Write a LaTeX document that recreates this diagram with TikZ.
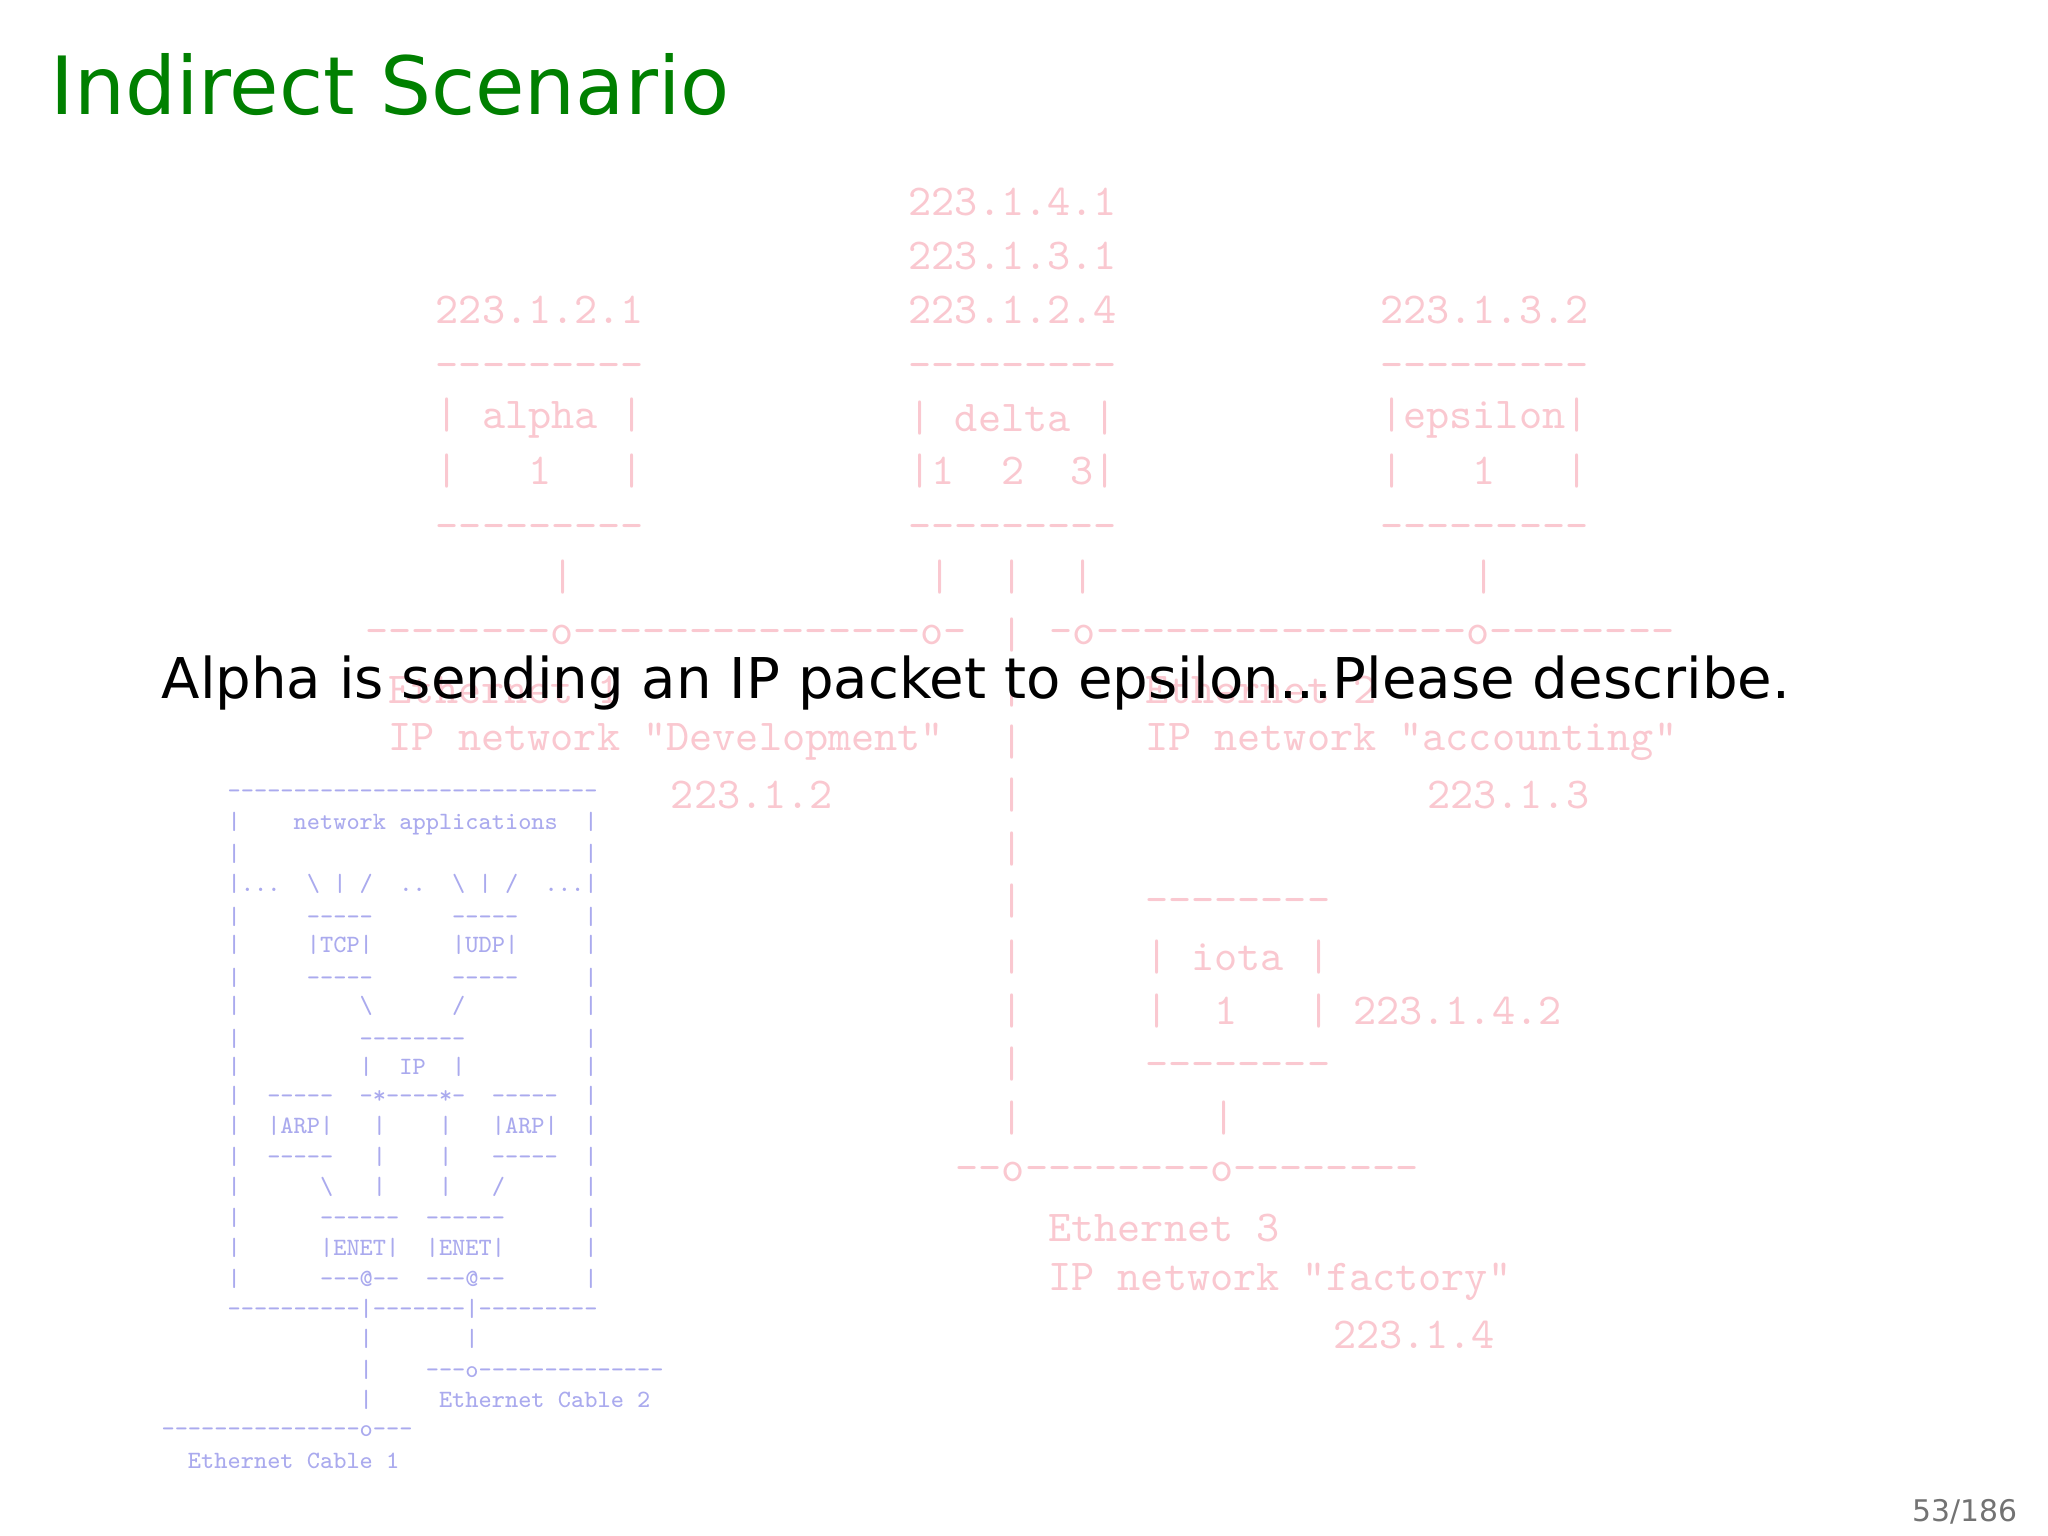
\documentclass[tikz,border=0pt]{standalone}
\usepackage{fontspec}
\setmainfont{DejaVu Sans}
\setmonofont{Latin Modern Mono}
\definecolor{titlegreen}{RGB}{0,128,0}
\definecolor{pinkc}{RGB}{250,200,208}
\definecolor{bluec}{RGB}{170,170,238}
\newcommand\bsp[1]{\kern#1\fontdimen2\font}
\newcommand\bsl{\textbackslash}
\begin{document}
\begin{tikzpicture}[x=0.1mm,y=-0.1mm,
  pk/.style={font=\fontsize{9.6}{11.67}\selectfont\ttfamily, text=pinkc, anchor=west, inner sep=0pt},
  pkc/.style={pk, anchor=center},
  bl/.style={font=\fontsize{5.42}{6.34}\selectfont\ttfamily, text=bluec, anchor=west, inner sep=0pt}]
\useasboundingbox[fill=white] (0,0) rectangle (1568,1176);
\node[anchor=base west, text=titlegreen, font=\fontsize{17.5}{20}\selectfont, inner sep=0pt] (title) at (38,88) {Indirect Scenario};
% pink network
\node[pk] (a1) at (695,155) {223.1.4.1};
\node[pk] (a2) at (695,196) {223.1.3.1};
\node[pk] (a3) at (333,237) {223.1.2.1};
\node[pk] (a4) at (695,237) {223.1.2.4};
\node[pk] (a5) at (1056,237) {223.1.3.2};
\node[pk] (b1) at (333,284) {---------};
\node[pk] (b2) at (695,284) {---------};
\node[pk] (b3) at (1056,284) {---------};
\node[pk] (c1) at (333,320) {|\bsp{1}alpha\bsp{1}|};
\node[pk] (c2) at (695,320) {|\bsp{1}delta\bsp{1}|};
\node[pk] (c3) at (1056,320) {|epsilon|};
\node[pk] (d1) at (333,361) {|\bsp{3}1\bsp{3}|};
\node[pk] (d2) at (695,361) {|1\bsp{2}2\bsp{2}3|};
\node[pk] (d3) at (1056,361) {|\bsp{3}1\bsp{3}|};
\node[pk] (e1) at (333,407) {---------};
\node[pk] (e2) at (695,407) {---------};
\node[pk] (e3) at (1056,407) {---------};
\node[pkc] (f1) at (431,442) {|};
\node[pkc] (f2) at (720,442) {|};
\node[pkc] (f3) at (775,442) {|};
\node[pkc] (f4) at (829,442) {|};
\node[pkc] (f5) at (1136,442) {|};
\node[pk] (netA) at (279,486) {--------o---------------o-};
\node[pkc] (netB) at (775,486) {|};
\node[pk] (netC) at (803,486) {-o----------------o--------};
\node[pk] (g1) at (297,528) {Ethernet 1};
\node[pkc] (g2) at (775,528) {|};
\node[pk] (g3) at (876,528) {Ethernet 2};
\node[pk] (h1) at (297,568) {IP network "Development"};
\node[pkc] (h2) at (775,568) {|};
\node[pk] (h3) at (876,568) {IP network "accounting"};
\node[pk] (i1) at (513,609) {223.1.2};
\node[pkc] (i2) at (775,609) {|};
\node[pk] (i3) at (1092,609) {223.1.3};
\node[pkc] (j2) at (775,650) {|};
\node[pkc] (k2) at (775,690) {|};
\node[pk] (k3) at (876,694) {--------};
\node[pkc] (l2) at (775,733) {|};
\node[pk] (l3) at (876,733) {|\bsp{1}iota\bsp{1}|};
\node[pkc] (m2) at (775,774) {|};
\node[pk] (m3) at (876,774) {|\bsp{2}1\bsp{3}|\bsp{1}223.1.4.2};
\node[pkc] (n2) at (775,815) {|};
\node[pk] (n3) at (876,819) {--------};
\node[pkc] (o2) at (775,856) {|};
\node[pkc] (o3) at (937,856) {|};
\node[pk] (p1) at (731,897) {--o--------o--------};
\node[pk] (q1) at (802,940) {Ethernet 3};
\node[pk] (r1) at (802,981) {IP network "factory"};
\node[pk] (s1) at (1020,1022) {223.1.4};
% blue protocol stack
\node[bl] (L1) at (123,608.0) {\bsp{5}----------------------------};
\node[bl] (L2) at (123,630.3) {\bsp{5}|\bsp{4}network applications\bsp{2}|};
\node[bl] (L3) at (123,653.6) {\bsp{5}|\bsp{26}|};
\node[bl] (L4) at (123,676.9) {\bsp{5}|...\bsp{2}\bsl\bsp{1}|\bsp{1}/\bsp{2}..\bsp{2}\bsl\bsp{1}|\bsp{1}/\bsp{2}...|};
\node[bl] (L5) at (123,702.2) {\bsp{5}|\bsp{5}-----\bsp{6}-----\bsp{5}|};
\node[bl] (L6) at (123,723.5) {\bsp{5}|\bsp{5}|TCP|\bsp{6}|UDP|\bsp{5}|};
\node[bl] (L7) at (123,748.8) {\bsp{5}|\bsp{5}-----\bsp{6}-----\bsp{5}|};
\node[bl] (L8) at (123,770.1) {\bsp{5}|\bsp{9}\bsl\bsp{6}/\bsp{9}|};
\node[bl] (L9) at (123,795.4) {\bsp{5}|\bsp{9}--------\bsp{9}|};
\node[bl] (L10) at (123,816.7) {\bsp{5}|\bsp{9}|\bsp{2}IP\bsp{2}|\bsp{9}|};
\node[bl] (L11) at (123,839.0) {\bsp{5}|\bsp{2}-----\bsp{2}-*----*-\bsp{2}-----\bsp{2}|};
\node[bl] (L12) at (123,862.3) {\bsp{5}|\bsp{2}|ARP|\bsp{3}|\bsp{4}|\bsp{3}|ARP|\bsp{2}|};
\node[bl] (L13) at (123,885.6) {\bsp{5}|\bsp{2}-----\bsp{3}|\bsp{4}|\bsp{3}-----\bsp{2}|};
\node[bl] (L14) at (123,908.9) {\bsp{5}|\bsp{6}\bsl\bsp{3}|\bsp{4}|\bsp{3}/\bsp{6}|};
\node[bl] (L15) at (123,932.2) {\bsp{5}|\bsp{6}------\bsp{2}------\bsp{6}|};
\node[bl] (L16) at (123,955.5) {\bsp{5}|\bsp{6}|ENET|\bsp{2}|ENET|\bsp{6}|};
\node[bl] (L17) at (123,978.8) {\bsp{5}|\bsp{6}---@--\bsp{2}---@--\bsp{6}|};
\node[bl] (L18) at (123,1002.1) {\bsp{5}----------|-------|---------};
\node[bl] (L19) at (123,1025.4) {\bsp{15}|\bsp{7}|};
\node[bl] (L20) at (123,1048.7) {\bsp{15}|\bsp{4}---o--------------};
\node[bl] (L21) at (123,1072.0) {\bsp{15}|\bsp{5}Ethernet Cable 2};
\node[bl] (L23) at (123,1095.3) {---------------o---};
\node[bl] (L24) at (123,1118.6) {\bsp{2}Ethernet Cable 1};
% question
\node[anchor=base west, font=\fontsize{12.24}{15}\selectfont, inner sep=0pt] (q) at (123,535) {Alpha is sending an IP packet to epsilon...Please describe.};
\node[anchor=base east, font=\fontsize{6.5}{8}\selectfont, text=black!55, inner sep=0pt] (pg) at (1545,1165) {53/186};
\end{tikzpicture}
\end{document}
